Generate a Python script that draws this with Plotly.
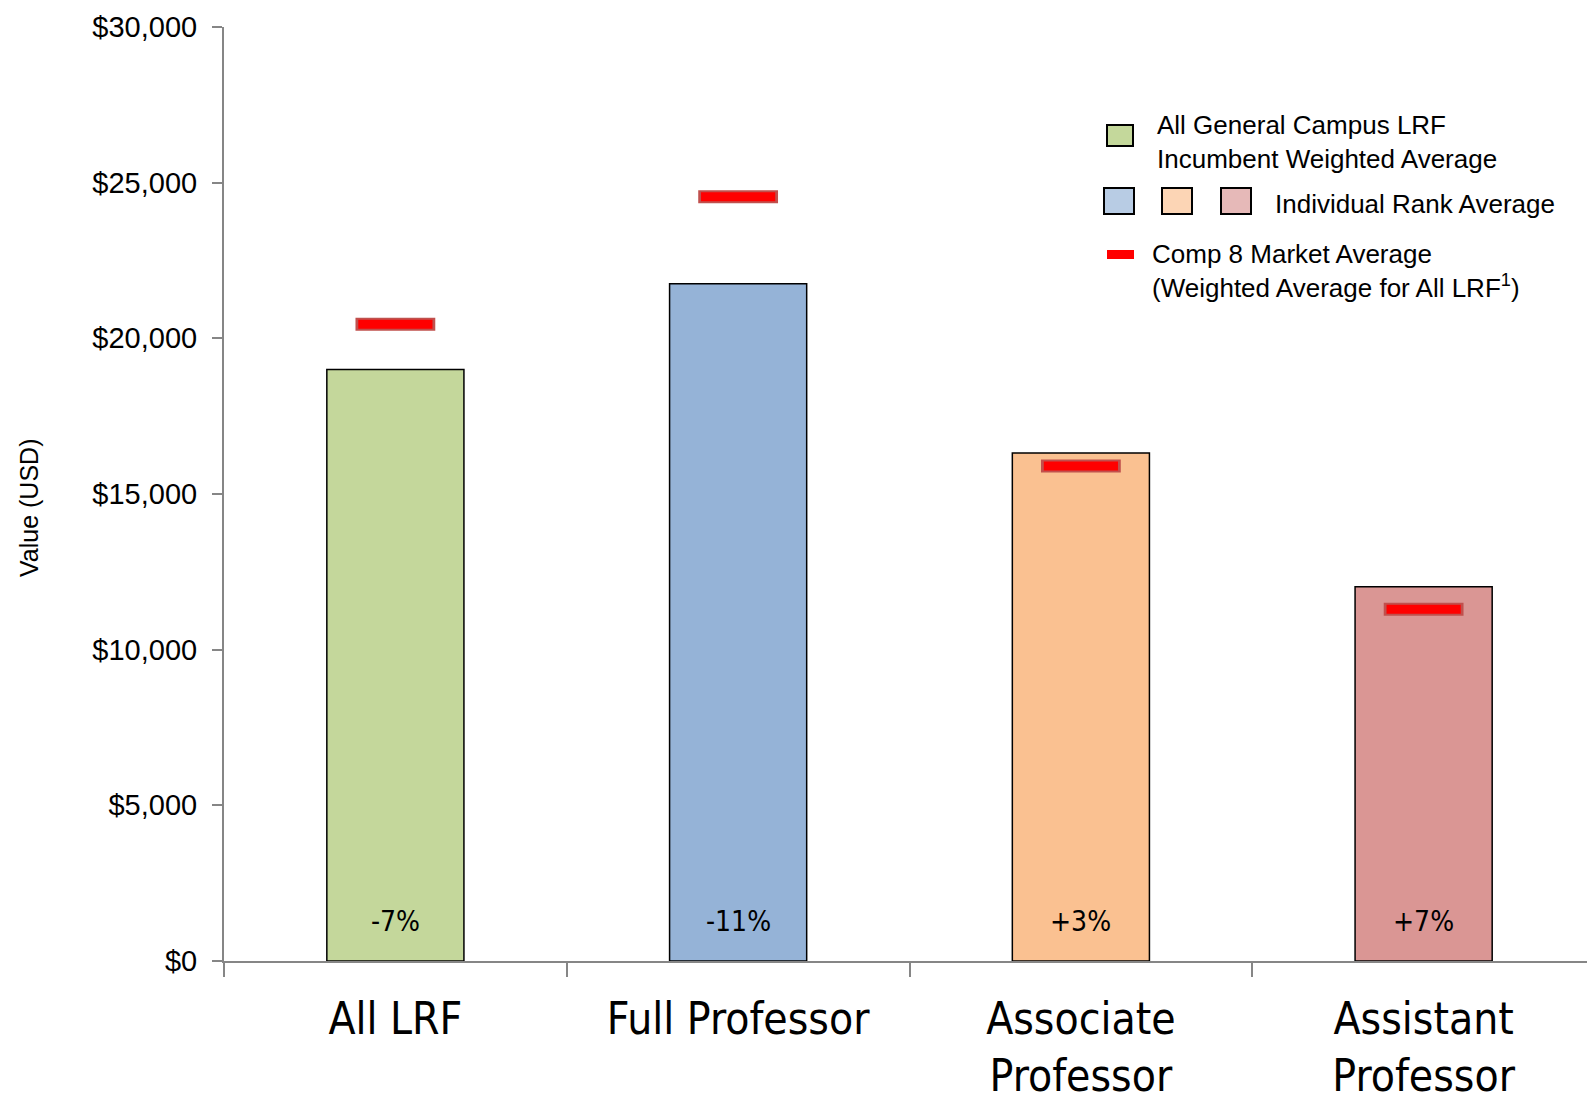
import plotly.graph_objects as go

# ---- data ----
categories = ["All LRF", "Full Professor", "Associate Professor", "Assistant Professor"]
category_labels = ["All LRF", "Full Professor", "Associate<br>Professor", "Assistant<br>Professor"]
incumbent_avg = [19000, 21750, 16320, 12020]
market_avg = [20450, 24550, 15900, 11300]
pct_labels = ["-7%", "-11%", "+3%", "+7%"]
bar_colors = ["#c4d79b", "#95b3d7", "#fac191", "#da9694"]
y_ticks = [0, 5000, 10000, 15000, 20000, 25000, 30000]
y_tick_text = ["${:,}".format(v) for v in y_ticks]

BODY = 8  # default page margin of the html body
W, H = 1595 - BODY, 1094 - BODY
ML, MT = 224 - BODY, 27 - BODY
PW, PH = W - ML, 934
MB = H - MT - PH
MR = 0

def px(x):
    # page pixel x -> paper coordinate
    return (x - BODY - ML) / PW

def py(y):
    # page pixel y -> paper coordinate
    return (H - MB - (y - BODY)) / PH

NARROW = "Liberation Sans Narrow, Arial Narrow, DejaVu Sans Condensed, sans-serif"
ARIAL = "Liberation Sans, Arial, sans-serif"

fig = go.Figure()
fig.add_trace(go.Bar(
    x=categories, y=incumbent_avg, width=0.4,
    marker=dict(color=bar_colors, line=dict(color="#000000", width=1.5)),
    showlegend=False, hoverinfo="skip",
))
# market average markers: dark outline + red fill
fig.add_trace(go.Scatter(
    x=categories, y=market_avg, mode="markers", showlegend=False, hoverinfo="skip",
    marker=dict(symbol="line-ew", size=57, line=dict(color="#c0504d", width=13)),
))
fig.add_trace(go.Scatter(
    x=categories, y=market_avg, mode="markers", showlegend=False, hoverinfo="skip",
    marker=dict(symbol="line-ew", size=53, line=dict(color="#ff0000", width=9)),
))

annotations = []
for c, t in zip(categories, pct_labels):
    annotations.append(dict(x=c, y=0, xref="x", yref="y", text=t, showarrow=False,
                            yanchor="bottom", yshift=21,
                            font=dict(family=NARROW, size=28, color="#000000")))

# y axis title
annotations.append(dict(xref="paper", yref="paper", x=px(29), y=py(508),
                        xanchor="center", yanchor="middle", textangle=-90, showarrow=False,
                        text="Value (USD)", font=dict(family=ARIAL, size=25, color="#000000")))

# custom legend
shapes = []
legend_boxes = [
    (1107, 125, 1133, 146, "#c4d89b"),
    (1104, 188, 1134, 214, "#b8cce4"),
    (1162, 188, 1192, 214, "#fcd5b5"),
    (1221, 188, 1251, 214, "#e6b9b8"),
]
for x0, y0, x1, y1, col in legend_boxes:
    shapes.append(dict(type="rect", xref="paper", yref="paper",
                       x0=px(x0), x1=px(x1), y0=py(y1), y1=py(y0),
                       fillcolor=col, line=dict(color="#000000", width=2)))
shapes.append(dict(type="rect", xref="paper", yref="paper",
                   x0=px(1107), x1=px(1134), y0=py(259), y1=py(250),
                   fillcolor="#ff0000", line=dict(color="#ff0000", width=0)))

annotations += [
    dict(xref="paper", yref="paper", x=px(1155), y=py(142), xanchor="left", yanchor="middle",
         align="left", showarrow=False,
         text="All General Campus LRF<br>Incumbent Weighted Average",
         font=dict(family=ARIAL, size=26, color="#000000")),
    dict(xref="paper", yref="paper", x=px(1273), y=py(204), xanchor="left", yanchor="middle",
         align="left", showarrow=False, text="Individual Rank Average",
         font=dict(family=ARIAL, size=26, color="#000000")),
    dict(xref="paper", yref="paper", x=px(1150), y=py(271), xanchor="left", yanchor="middle",
         align="left", showarrow=False,
         text="Comp 8 Market Average<br>(Weighted Average for All LRF<sup>1</sup>)",
         font=dict(family=ARIAL, size=26, color="#000000")),
]

fig.update_layout(
    width=W, height=H,
    margin=dict(l=ML, r=MR, t=MT, b=MB, pad=0),
    paper_bgcolor="white", plot_bgcolor="white",
    shapes=shapes, annotations=annotations,
    bargap=0.6,
)
fig.update_xaxes(
    tickvals=categories, ticktext=category_labels, automargin=False,
    showline=True, linecolor="#868686", linewidth=2,
    ticks="outside", tickson="boundaries", ticklen=14, tickcolor="#868686", tickwidth=2,
    tickfont=dict(family=NARROW, size=44, color="#000000"),
    ticklabelstandoff=18, showgrid=False, zeroline=False,
)
fig.update_yaxes(
    range=[0, 30000], tickvals=y_ticks, ticktext=y_tick_text, automargin=False,
    showline=True, linecolor="#868686", linewidth=2,
    ticks="outside", ticklen=10, tickcolor="#868686", tickwidth=2,
    tickfont=dict(family=ARIAL, size=29, color="#000000"),
    ticklabelstandoff=9, showgrid=False, zeroline=False,
)

fig.write_html("out.html")
